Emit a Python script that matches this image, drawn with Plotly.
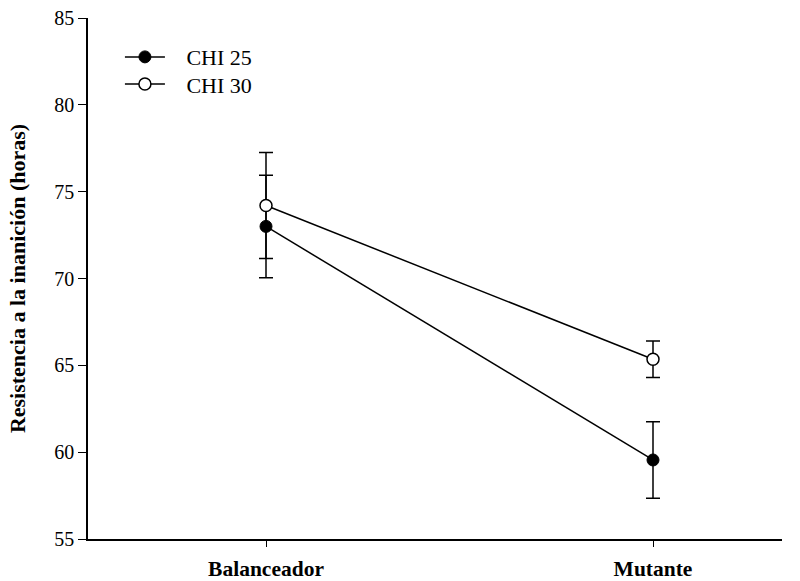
import plotly.graph_objects as go

categories = ["Balanceador", "Mutante"]
x_pos = [1, 2]
chi25 = [73.0, 59.55]
chi25_err = [2.95, 2.2]
chi30 = [74.2, 65.35]
chi30_err = [3.05, 1.05]
y_ticks = [55, 60, 65, 70, 75, 80, 85]
series_names = ["\u00a0\u00a0\u00a0CHI 25", "\u00a0\u00a0\u00a0CHI 30"]

font_family = "Liberation Serif, Times New Roman, serif"

fig = go.Figure()
fig.add_trace(go.Scatter(
    x=x_pos, y=chi25, name=series_names[0], mode="lines+markers", legend="legend",
    line=dict(color="black", width=1.5),
    marker=dict(symbol="circle", size=12, color="black", line=dict(color="black", width=1)),
    error_y=dict(type="data", array=chi25_err, visible=True, color="black", thickness=1.5, width=7),
))
fig.add_trace(go.Scatter(
    x=x_pos, y=chi30, name=series_names[1], mode="lines+markers", legend="legend2",
    line=dict(color="black", width=1.5),
    marker=dict(symbol="circle", size=12, color="white", line=dict(color="black", width=1.5)),
    error_y=dict(type="data", array=chi30_err, visible=True, color="black", thickness=1.5, width=7),
))

legend_common = dict(x=0.046, xanchor="left", yanchor="middle",
                     bgcolor="rgba(0,0,0,0)", font=dict(size=22, family=font_family),
                     itemwidth=40)

fig.update_layout(
    width=800, height=581,
    margin=dict(l=88, r=18, t=18, b=42),
    plot_bgcolor="white", paper_bgcolor="white",
    font=dict(family=font_family, size=20, color="black"),
    showlegend=True,
    legend=dict(y=0.925, **legend_common),
    legend2=dict(y=0.873, **legend_common),
    xaxis=dict(
        range=[1 - 178 / 387, 2 + 129 / 387],
        tickmode="array", tickvals=x_pos, ticktext=categories,
        tickfont=dict(size=21.5, family=font_family, weight="bold"),
        showline=True, linecolor="black", linewidth=1.5,
        ticks="outside", ticklen=6, tickwidth=1.2, tickcolor="black",
        ticklabelstandoff=3,
        showgrid=False, zeroline=False, automargin=False,
    ),
    yaxis=dict(
        range=[55, 85],
        tickmode="array", tickvals=y_ticks,
        tickfont=dict(size=20, family=font_family),
        showline=True, linecolor="black", linewidth=1.5,
        ticks="outside", ticklen=8, tickwidth=1.2, tickcolor="black",
        showgrid=False, zeroline=False, automargin=False,
        title=dict(text="<b>Resistencia a la inanición (horas)</b>",
                   font=dict(size=22, family=font_family), standoff=23),
    ),
)

fig.write_html("out.html")
